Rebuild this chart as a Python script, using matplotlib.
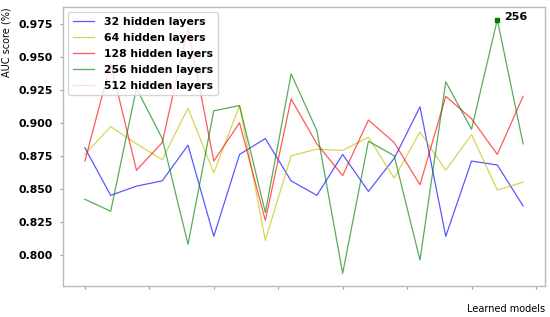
import matplotlib
matplotlib.use("Agg")
import matplotlib.pyplot as plt
import numpy as np

models = list(range(18))
auc_32 = [0.881, 0.845, 0.852, 0.856, 0.883, 0.814, 0.876, 0.888, 0.856, 0.845,
          0.876, 0.848, 0.873, 0.912, 0.814, 0.871, 0.868, 0.837]
auc_64 = [0.876, 0.897, 0.884, 0.872, 0.911, 0.862, 0.913, 0.811, 0.875, 0.880,
          0.879, 0.889, 0.858, 0.893, 0.864, 0.891, 0.849, 0.855]
auc_128 = [0.871, 0.945, 0.864, 0.885, 0.972, 0.871, 0.900, 0.826, 0.918, 0.884,
           0.860, 0.902, 0.885, 0.853, 0.920, 0.903, 0.876, 0.920]
auc_256 = [0.842, 0.833, 0.926, 0.888, 0.808, 0.909, 0.913, 0.832, 0.937, 0.894,
           0.786, 0.886, 0.875, 0.796, 0.931, 0.895, 0.978, 0.884]
auc_512 = []
labels = ["32 hidden layers", "64 hidden layers", "128 hidden layers",
          "256 hidden layers", "512 hidden layers"]
colors = ["b", "y", "r", "g", "pink"]

fig = plt.figure(figsize=(5.5, 3.17), dpi=100)
ax = fig.add_axes([63/550, 1-286/317, (545-63)/550, (286-7)/317])

series = [auc_32, auc_64, auc_128, auc_256, auc_512]
for vals, lab, c in zip(series, labels, colors):
    ax.plot(models[:len(vals)], vals, color=c, alpha=0.65, lw=0.9, label=lab)

imax = int(np.argmax(auc_256))
ax.plot(models[imax], auc_256[imax], marker="s", color="g", ms=3, ls="none")
ax.annotate("256", (models[imax], auc_256[imax]), xytext=(5, 2),
            textcoords="offset points", fontsize=8, fontweight="bold", va="center")

ax.set_xticks(np.arange(0, 18, 2.5))
ax.set_xticklabels([])
ax.tick_params(axis="x", length=2.5, color="#999999")
ax.tick_params(axis="y", length=2.5, color="#999999", labelsize=7.8, pad=5)
for t in ax.get_yticklabels():
    t.set_fontweight("bold")
ax.yaxis.set_major_formatter(matplotlib.ticker.FormatStrFormatter("%.3f"))
for s in ax.spines.values():
    s.set_color("#bbbbbb")
    s.set_linewidth(1.0)

ax.set_ylabel("AUC score (%)", fontsize=7, labelpad=5, loc="top")
ax.set_xlabel("Learned models", fontsize=7, loc="right", labelpad=7)

leg = ax.legend(loc="upper left", prop={"weight": "bold", "size": 7.8},
                handlelength=2.0, borderaxespad=0.45, labelspacing=0.55,
                handletextpad=0.9, borderpad=0.45)

fig.savefig("out.png", dpi=100)
